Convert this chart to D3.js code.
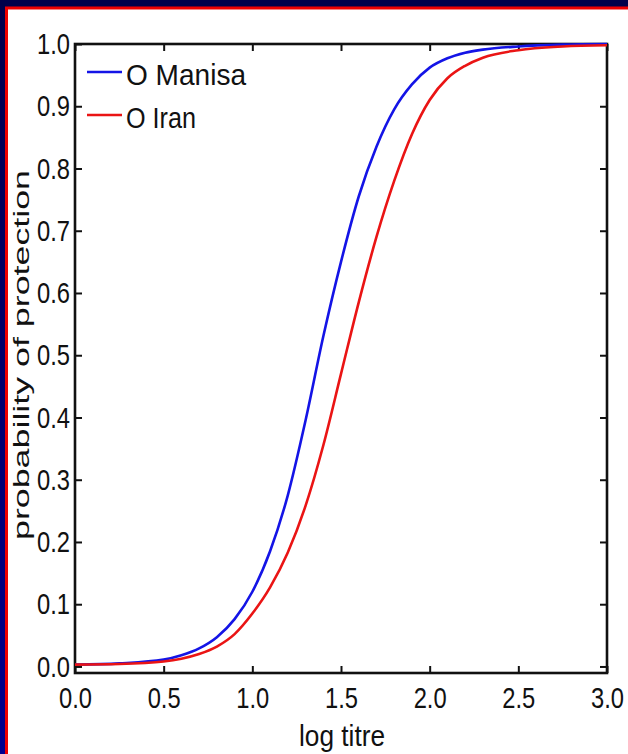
<!DOCTYPE html>
<html>
<head>
<meta charset="utf-8">
<script src="https://cdn.jsdelivr.net/npm/d3@7"></script>
<style>
  html, body { margin: 0; padding: 0; background: #fff; }
  svg { display: block; }
  text { font-family: "Liberation Sans", Arial, Helvetica, sans-serif; fill: #111; }
</style>
</head>
<body>
<svg id="chart" width="628" height="754"></svg>
<script>
// ---- data ----
const logTitre = [0, 0.25, 0.5, 0.6, 0.7, 0.8, 0.9, 1.0, 1.1, 1.2, 1.3, 1.4, 1.5, 1.6, 1.7, 1.8, 1.9, 2.0, 2.1, 2.2, 2.3, 2.5, 2.75, 3.0];
const oManisa  = [0.003, 0.005, 0.011, 0.018, 0.029, 0.047, 0.076, 0.12, 0.185, 0.275, 0.395, 0.53, 0.65, 0.755, 0.835, 0.895, 0.935, 0.962, 0.977, 0.986, 0.991, 0.996, 0.999, 1.0];
const oIran    = [0.003, 0.004, 0.008, 0.0125, 0.020, 0.032, 0.052, 0.085, 0.127, 0.183, 0.258, 0.355, 0.47, 0.585, 0.69, 0.78, 0.855, 0.91, 0.945, 0.965, 0.978, 0.99, 0.996, 0.998];
const seriesNames = ["O Manisa", "O Iran"];
const xTicks = [0, 0.5, 1.0, 1.5, 2.0, 2.5, 3.0];
const yTicks = [0, 0.1, 0.2, 0.3, 0.4, 0.5, 0.6, 0.7, 0.8, 0.9, 1.0];
const xLabel = "log titre";
const yLabel = "probability of protection";

const svg = d3.select("#chart");
const W = 628, H = 754;

// ---- frame ----
const grad = svg.append("defs").append("linearGradient")
  .attr("id", "navy").attr("x1", 0).attr("y1", 0).attr("x2", 0).attr("y2", 1);
grad.append("stop").attr("offset", "0%").attr("stop-color", "#00004a");
grad.append("stop").attr("offset", "100%").attr("stop-color", "#00008e");
svg.append("rect").attr("x", 0).attr("y", 0).attr("width", W).attr("height", H).attr("fill", "url(#navy)");
svg.append("rect").attr("x", 5).attr("y", 6.5).attr("width", W - 5).attr("height", H - 6.5).attr("fill", "#ee0000");
svg.append("rect").attr("x", 8).attr("y", 9.5).attr("width", W - 8).attr("height", H - 9.5).attr("fill", "#ffffff");

// ---- scales ----
const x = d3.scaleLinear().domain([0, 3]).range([75, 607]);
const y = d3.scaleLinear().domain([-0.0105, 1]).range([673, 44]);

const g = svg.append("g");

// ---- axes (ticks inward on all four sides) ----
const fmt = d3.format(".1f");
const tickLen = 7;
const axB = g.append("g").attr("transform", `translate(0,${y.range()[0]})`)
  .call(d3.axisBottom(x).tickValues(xTicks).tickFormat(fmt).tickSize(-tickLen).tickPadding(14));
const axT = g.append("g").attr("transform", `translate(0,${y.range()[1]})`)
  .call(d3.axisTop(x).tickValues(xTicks).tickFormat("").tickSize(-tickLen));
const axL = g.append("g").attr("transform", `translate(${x.range()[0]},0)`)
  .call(d3.axisLeft(y).tickValues(yTicks).tickFormat(fmt).tickSize(-tickLen).tickPadding(5));
const axR = g.append("g").attr("transform", `translate(${x.range()[1]},0)`)
  .call(d3.axisRight(y).tickValues(yTicks).tickFormat("").tickSize(-tickLen));

[axB, axT, axL, axR].forEach(a => {
  a.select(".domain").remove();
  a.selectAll(".tick line").attr("stroke", "#111").attr("stroke-width", 2);
});
[axB, axL].forEach(a => {
  a.selectAll(".tick text").attr("font-size", 30).attr("fill", "#111")
    .attr("textLength", 33).attr("lengthAdjust", "spacingAndGlyphs");
});

// box
g.append("rect")
  .attr("x", x.range()[0]).attr("y", y.range()[1])
  .attr("width", x.range()[1] - x.range()[0]).attr("height", y.range()[0] - y.range()[1])
  .attr("fill", "none").attr("stroke", "#111").attr("stroke-width", 2.6);

// ---- curves ----
const line = d3.line().x((d, i) => x(logTitre[i])).y(d => y(d)).curve(d3.curveMonotoneX);
const colors = ["#1414e6", "#ea1414"];
[oManisa, oIran].forEach((s, k) => {
  g.append("path").attr("d", line(s)).attr("fill", "none")
    .attr("stroke", colors[k]).attr("stroke-width", 2.6).attr("stroke-linejoin", "round");
});

// ---- legend ----
const legY = [72, 115];
seriesNames.forEach((n, k) => {
  g.append("line").attr("x1", 87).attr("x2", 122).attr("y1", legY[k]).attr("y2", legY[k])
    .attr("stroke", colors[k]).attr("stroke-width", 2.6);
  g.append("text").attr("x", 126).attr("y", legY[k] + 13).attr("font-size", 29)
    .attr("textLength", k === 0 ? 120 : 70).attr("lengthAdjust", "spacingAndGlyphs").text(n);
});

// ---- axis labels ----
g.append("text").attr("x", 342).attr("y", 746).attr("text-anchor", "middle")
  .attr("font-size", 30).attr("textLength", 86).attr("lengthAdjust", "spacingAndGlyphs").text(xLabel);
g.append("text")
  .attr("transform", "translate(29,355) rotate(-90)")
  .attr("text-anchor", "middle").attr("font-size", 22)
  .attr("textLength", 370).attr("lengthAdjust", "spacingAndGlyphs")
  .text(yLabel);
</script>
</body>
</html>
